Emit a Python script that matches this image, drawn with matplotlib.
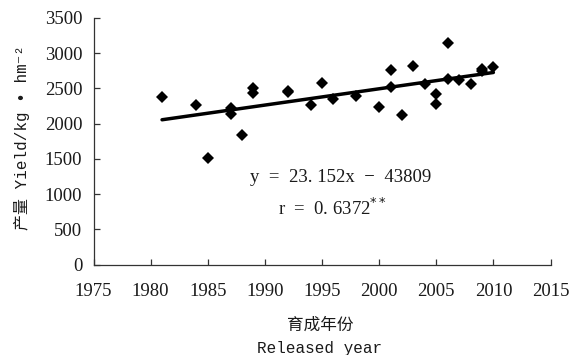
import matplotlib
matplotlib.use("Agg")
import matplotlib.pyplot as plt
import numpy as np

years = [1981, 1984, 1985, 1987, 1987, 1988, 1989, 1989, 1992, 1992, 1994, 1995,
         1996, 1998, 2000, 2001, 2001, 2002, 2003, 2004, 2005, 2005, 2006, 2006,
         2007, 2008, 2009, 2009, 2010]
yields = [2375, 2270, 1513, 2227, 2133, 1844, 2506, 2440, 2470, 2445, 2270, 2582,
          2350, 2393, 2232, 2766, 2525, 2119, 2823, 2559, 2426, 2284, 3149, 2634,
          2620, 2567, 2776, 2745, 2809]
slope = 23.152
intercept = -43809
x_ticks = [1975, 1980, 1985, 1990, 1995, 2000, 2005, 2010, 2015]
y_ticks = [0, 500, 1000, 1500, 2000, 2500, 3000, 3500]

serif = ['Liberation Serif', 'Noto Sans CJK SC']
mono = ['Liberation Mono', 'Noto Sans CJK SC', 'DejaVu Sans']
cjk = ['Noto Sans CJK SC', 'DejaVu Sans']

fig = plt.figure(figsize=(5.69, 3.55), dpi=100)
ax = fig.add_axes([93.5/569, 1-264.5/355, (550.5-93.5)/569, (264.5-18)/355])

ax.plot(years, yields, linestyle='none', marker='D', markersize=6.5,
        color='black', markeredgewidth=0)
xl = np.array([min(years), max(years)])
ax.plot(xl, slope*xl + intercept, color='black', linewidth=2.5, solid_capstyle='round')

ax.set_xlim(1975, 2015)
ax.set_ylim(0, 3500)
ax.set_xticks(x_ticks)
ax.set_yticks(y_ticks)
ax.tick_params(direction='in', length=4, width=0.9, color='#333333')
ax.tick_params(axis='x', pad=13)
ax.tick_params(axis='y', pad=8)
for lab in ax.get_xticklabels() + ax.get_yticklabels():
    lab.set_family(serif)
    lab.set_fontsize(13.5)
    lab.set_color('#1a1a1a')
for s in ['top', 'right']:
    ax.spines[s].set_visible(False)
for s in ['left', 'bottom']:
    ax.spines[s].set_color('#333333')
    ax.spines[s].set_linewidth(0.9)

fig.text(341/569, 1-177/355, 'y  =  23. 152x  −  43809', family=serif,
         fontsize=13.5, ha='center', va='center', color='#1a1a1a')
fig.text(332/569, 1-208/355, 'r  =  0. 6372$^{**}$', family=serif, fontsize=13.5,
         ha='center', va='center', color='#1a1a1a')

fig.text(320/569, 1-325/355, '育成年份', family=cjk, fontsize=12, ha='center',
         va='center', color='#1a1a1a')
fig.text(320/569, 1-348/355, 'Released year', family=mono, fontsize=11.5,
         ha='center', va='center', color='#1a1a1a')
fig.text(22/569, 1-138/355, '产量 Yield/kg • hm⁻²', family=mono, fontsize=11.5,
         rotation=90, ha='center', va='center', color='#1a1a1a')

fig.savefig('out.png', dpi=100)
